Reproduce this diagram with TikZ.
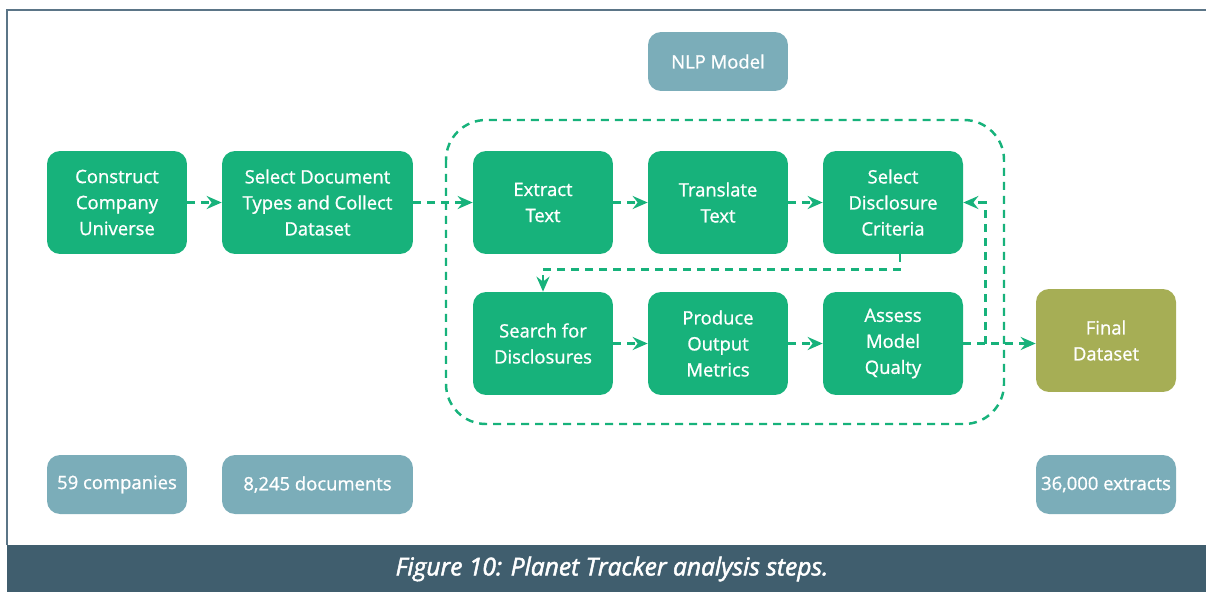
\documentclass[tikz,border=0pt]{standalone}
\usepackage{fontspec}
\setmainfont{Open Sans}
\newfontfamily\boxfont[FakeBold=1]{Open Sans}
\newfontfamily\capfont[FakeBold=2]{Open Sans}
\usepackage{xcolor}
\definecolor{ptGreen}{HTML}{17B27B}
\definecolor{ptGrey}{HTML}{7BADB9}
\definecolor{ptOlive}{HTML}{A6AE55}
\definecolor{ptBar}{HTML}{405E6E}
\definecolor{ptFrame}{HTML}{5B7587}
\usepackage{tikz}
\usetikzlibrary{calc}
\usetikzlibrary{arrows.meta}
\tikzset{
    stepbox/.style={rectangle,rounded corners=0.26cm,fill=ptGreen,text=white,align=center,
        minimum width=2.8cm,minimum height=2.06cm,inner sep=2pt,
        font=\boxfont\fontsize{10.5}{14.8}\selectfont},
    infobox/.style={stepbox,fill=ptGrey,minimum height=1.18cm},
    finalbox/.style={stepbox,fill=ptOlive},
    flow/.style={draw=ptGreen,line width=1.4pt,dash pattern=on 0.16cm off 0.12cm,
        -{Stealth[length=3mm,width=2.6mm,inset=1mm]}}
}

\begin{document}
\begin{tikzpicture}[x=0.02cm,y=-0.02cm]
  % Bounding box (pixel grid of the reference)
  \path[use as bounding box] (0,0) rectangle (1206,592);

  % Frame and caption bar
  \draw[ptFrame, line width=1.2pt] (7,545) -- (7,10) -- (1206,10);
  \fill[ptBar] (7,545) rectangle (1206,592);
  \node[text=white, font=\capfont\fontsize{14}{17}\selectfont\itshape] (cap) at (612,569)
    {Figure 10: Planet Tracker analysis steps.};

  % NLP region
  \draw[ptGreen, line width=1.4pt, dash pattern=on 0.16cm off 0.12cm, rounded corners=0.8cm]
    (446,120) rectangle (1004,424);

  % Steps
  \node[stepbox] (univ)    at (117,202.5)   {Construct\\Company\\Universe};
  \node[stepbox, minimum width=3.82cm] (docs) at (317.5,202.5) {Select Document\\Types and Collect\\Dataset};
  \node[stepbox] (extract) at (543,202.5)   {Extract\\Text};
  \node[stepbox] (transl)  at (718,202.5)   {Translate\\Text};
  \node[stepbox] (crit)    at (893,202.5)   {Select\\Disclosure\\Criteria};
  \node[stepbox] (search)  at (543,343.5)   {Search for\\Disclosures};
  \node[stepbox] (metrics) at (718,343.5)   {Produce\\Output\\Metrics};
  \node[stepbox] (assess)  at (893,343.5)   {Assess\\Model\\Qualty};
  \node[finalbox] (final)  at (1106,340.5)  {Final\\Dataset};

  % Counts
  \node[infobox] (nlp)     at (718,61.5)    {NLP Model};
  \node[infobox] (ncomp)   at (117,484.5)   {59 companies};
  \node[infobox, minimum width=3.82cm] (ndocs) at (317.5,484.5) {8,245 documents};
  \node[infobox] (nextr)   at (1106,484.5)  {36,000 extracts};

  % Connectors
  \draw[flow] (univ.east) -- (docs.west);
  \draw[flow] (docs.east) -- (extract.west);
  \draw[flow] (extract.east) -- (transl.west);
  \draw[flow] (transl.east) -- (crit.west);
  \draw[flow] ([xshift=4]crit.south) -- ++(0,15) -| (search.north);
  \draw[flow] (search.east) -- (metrics.west);
  \draw[flow] (metrics.east) -- (assess.west);
  \draw[flow] (assess.east) -- (assess.east -| final.west);
  \coordinate (loop) at ($(assess.east)+(22,0)$);
  \draw[flow] (loop) |- (crit.east);

\end{tikzpicture}
\end{document}
